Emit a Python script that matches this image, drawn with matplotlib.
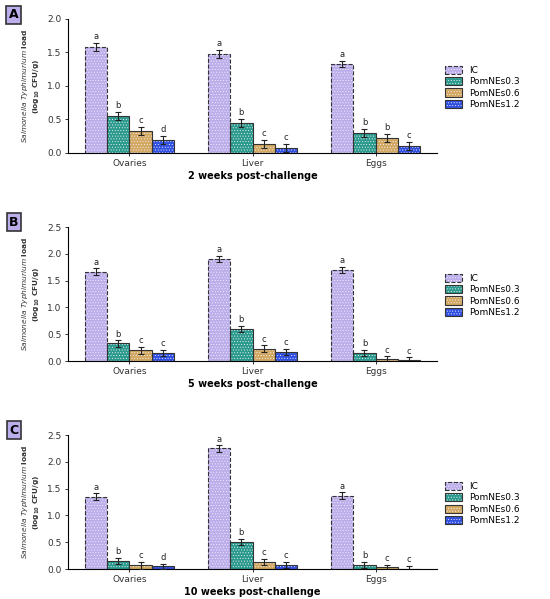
import numpy as np
import matplotlib
matplotlib.use("Agg")
import matplotlib.pyplot as plt

# organs on the x axis and the four treatment groups
organs = ["Ovaries", "Liver", "Eggs"]
groups = ["IC", "PomNEs0.3", "PomNEs0.6", "PomNEs1.2"]

# log10 CFU/g per group (rows) and organ (columns)
load_2wk = [[1.58, 1.48, 1.33],
            [0.55, 0.45, 0.30],
            [0.33, 0.13, 0.23],
            [0.20, 0.08, 0.10]]
load_5wk = [[1.67, 1.90, 1.70],
            [0.33, 0.60, 0.15],
            [0.20, 0.23, 0.04],
            [0.15, 0.17, 0.02]]
load_10wk = [[1.35, 2.25, 1.37],
             [0.15, 0.50, 0.08],
             [0.07, 0.13, 0.03],
             [0.05, 0.08, 0.01]]

err_2wk = [[0.06, 0.06, 0.05], [0.06, 0.06, 0.06], [0.06, 0.06, 0.06], [0.06, 0.06, 0.06]]
err_5wk = [[0.06, 0.06, 0.06], [0.06, 0.06, 0.06], [0.06, 0.06, 0.05], [0.06, 0.06, 0.05]]
err_10wk = [[0.06, 0.06, 0.06], [0.06, 0.06, 0.06], [0.06, 0.06, 0.05], [0.05, 0.06, 0.05]]

# significance letters, same layout as the values
letters_2wk = [["a", "a", "a"], ["b", "b", "b"], ["c", "c", "b"], ["d", "c", "c"]]
letters_5wk = [["a", "a", "a"], ["b", "b", "b"], ["c", "c", "c"], ["c", "c", "c"]]
letters_10wk = [["a", "a", "a"], ["b", "b", "b"], ["c", "c", "c"], ["d", "c", "c"]]

titles = ["2 weeks post-challenge", "5 weeks post-challenge", "10 weeks post-challenge"]
panel_tags = ["A", "B", "C"]
y_tops = [2.0, 2.5, 2.5]

colors = ["#bcaeea", "#2a9a8c", "#d2a860", "#2f4fe0"]

plt.rcParams['hatch.linewidth'] = 0.35

fig = plt.figure(figsize=(5.5, 5.99), dpi=100)

# axes rectangles in figure fraction
rects = [[0.1236, 0.7446, 0.671, 0.2237],
         [0.1236, 0.3973, 0.671, 0.2237],
         [0.1236, 0.0500, 0.671, 0.2237]]
tag_y = [0.975, 0.629, 0.282]

all_loads = [load_2wk, load_5wk, load_10wk]
all_errs = [err_2wk, err_5wk, err_10wk]
all_letters = [letters_2wk, letters_5wk, letters_10wk]

width = 0.18
x = np.arange(len(organs))

for p in range(3):
    ax = fig.add_axes(rects[p])
    loads = all_loads[p]
    errs = all_errs[p]
    lets = all_letters[p]
    handles = []
    for g in range(len(groups)):
        pos = x + (g - 1.5) * width
        # fill with white dotted hatch, then a separate outline on top
        fill = ax.bar(pos, loads[g], width, color=colors[g], edgecolor="#f4f0ff",
                      hatch="......", linewidth=0, zorder=2)
        edge = ax.bar(pos, loads[g], width, facecolor="none", edgecolor="#333333",
                      linewidth=0.8, linestyle="--" if g == 0 else "-", zorder=3)
        ax.errorbar(pos, loads[g], yerr=errs[g], fmt="none", ecolor="#222222",
                    elinewidth=0.8, capsize=2, capthick=0.8, zorder=4)
        for i in range(len(organs)):
            ax.text(pos[i], loads[g][i] + errs[g][i] + 0.03, lets[g][i],
                    ha="center", va="bottom", fontsize=6, color="#222222")
        handles.append((fill[0], edge[0]))

    ax.set_xlim(-0.5, 2.5)
    ax.set_ylim(0, y_tops[p])
    ax.set_yticks(np.arange(0, y_tops[p] + 0.01, 0.5))
    ax.set_yticklabels(["%.1f" % v for v in np.arange(0, y_tops[p] + 0.01, 0.5)])
    ax.set_xticks(x)
    ax.set_xticklabels(organs)
    ax.tick_params(labelsize=6.5, length=2.5, width=0.7, pad=2, colors="#333333")
    ax.spines["top"].set_visible(False)
    ax.spines["right"].set_visible(False)
    ax.spines["left"].set_linewidth(0.8)
    ax.spines["bottom"].set_linewidth(0.8)
    ax.set_xlabel(titles[p], fontsize=7, fontweight="bold", labelpad=2)
    ax.set_ylabel(r"$\it{Salmonella\ Typhimurium}$ $\bf{load}$" + "\n" + r"$\bf{(log_{10}\ CFU/g)}$",
                  fontsize=5.3, labelpad=4, color="#333333")

    ax.legend(handles, groups, loc="center left", bbox_to_anchor=(1.0, 0.49),
              frameon=False, fontsize=6.5, handlelength=1.9, handleheight=1.0,
              labelspacing=0.25)

    fig.text(0.025, tag_y[p], panel_tags[p], fontsize=9, fontweight="bold",
             ha="center", va="center",
             bbox=dict(boxstyle="square,pad=0.2", facecolor="#bcaeea", edgecolor="#333333", linewidth=1.2))

fig.savefig("out.png", dpi=100)
